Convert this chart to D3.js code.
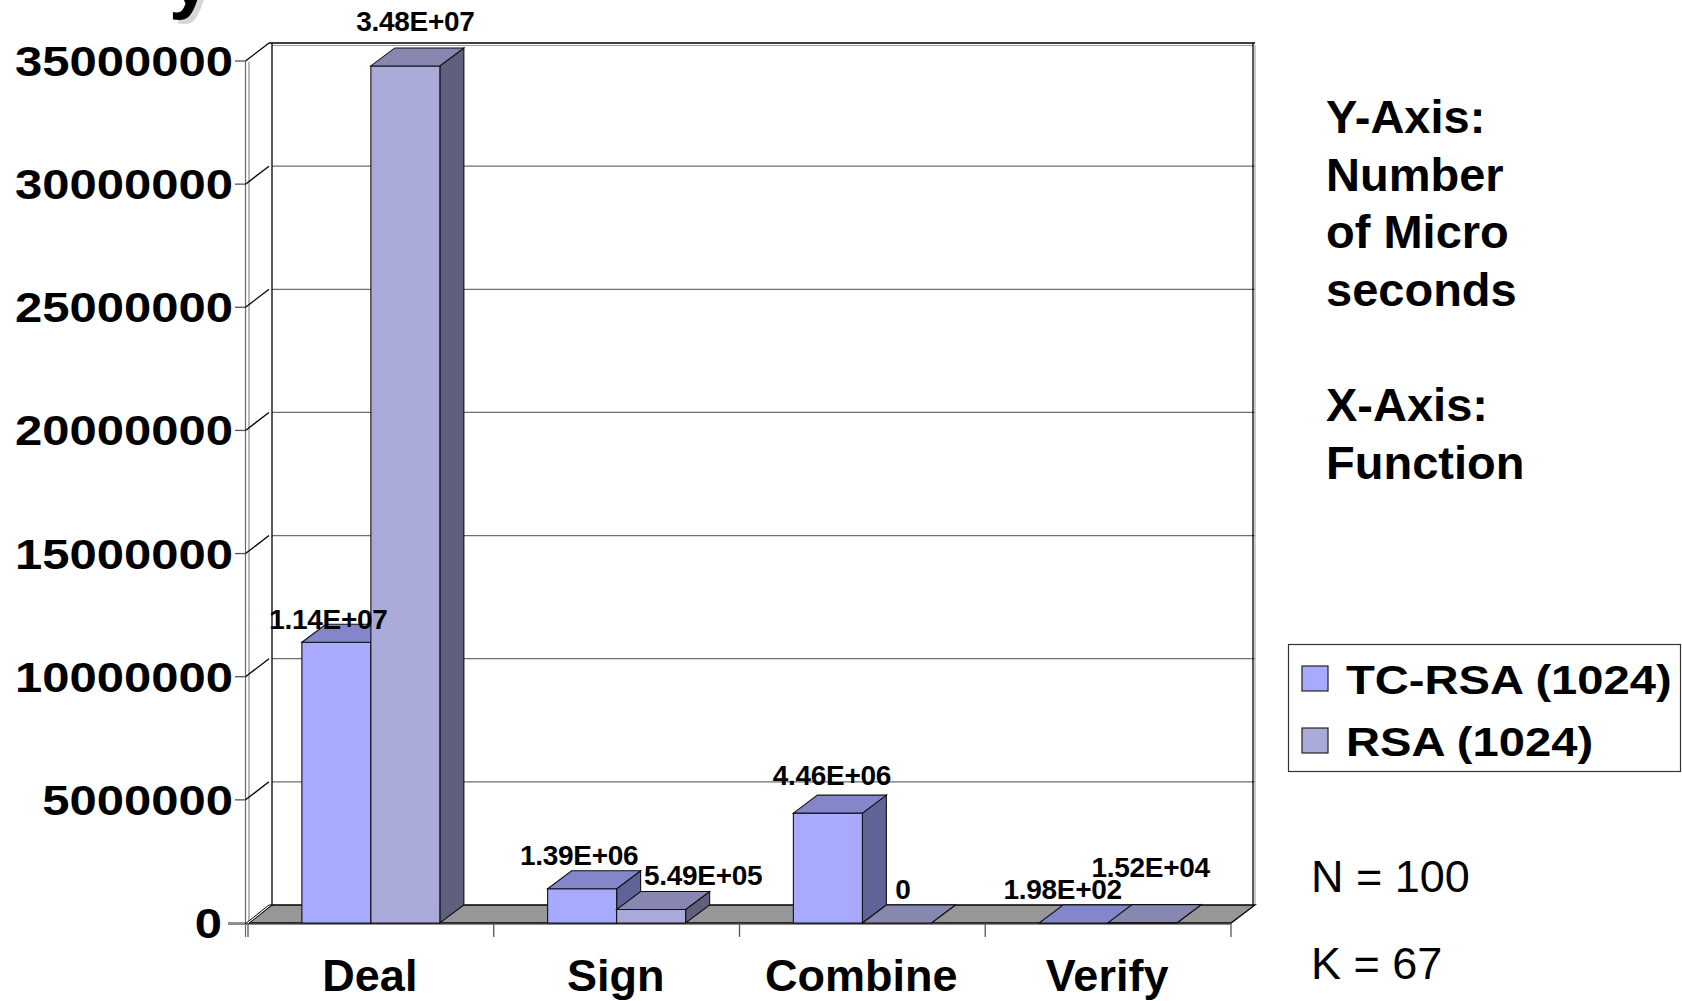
<!DOCTYPE html>
<html>
<head>
<meta charset="utf-8">
<script src="https://cdn.jsdelivr.net/npm/d3@7"></script>
<style>
  html, body { margin: 0; padding: 0; background: #fff; }
  svg { display: block; }
  text { font-family: "Liberation Sans", Arial, Helvetica, sans-serif; fill: #000; }
</style>
</head>
<body>
<svg id="chart" width="1682" height="1001"></svg>
<script>
// ---- data ----
const categories = ["Deal", "Sign", "Combine", "Verify"];
const seriesNames = ["TC-RSA (1024)", "RSA (1024)"];
const tcRsaTimes = [1.14e7, 1.39e6, 4.46e6, 1.98e2];
const rsaTimes = [3.48e7, 5.49e5, 0, 1.52e4];
const yTickValues = [0, 5000000, 10000000, 15000000, 20000000, 25000000, 30000000, 35000000];
const notes = ["Y-Axis:", "Number", "of Micro", "seconds", "", "X-Axis:", "Function"];
const params = ["N = 100", "K = 67"];

// ---- layout ----
const floorLeft = 248, floorRight = 1231, floorFrontY = 923;
const DX = 24, DY = -18;               // 3-D depth offset
const palette = [
  { front: "#A8AAFF", top: "#8486CC", side: "#606398" },
  { front: "#A9AAD8", top: "#8787B0", side: "#5F5F7E" }
];
// hand-placed nudges for value labels so neighbours do not collide
const labelNudge = [
  [[-20, 11], [-15, 0], [-8, -4], [-23, 0]],
  [[-2, -11], [40, 0], [-6, 0], [-4, -22]]
];

const svg = d3.select("#chart");

const x = d3.scaleBand().domain(categories).range([floorLeft, floorRight])
  .paddingInner(0.4385).paddingOuter(0.4385 / 2);
const xs = d3.scaleBand().domain([0, 1]).range([0, x.bandwidth()]);
const y = d3.scaleLinear().domain([0, 35000000]).range([floorFrontY, 61]);

const series = [tcRsaTimes, rsaTimes];

function fmtExp(v) {
  if (v === 0) return "0";
  const [m, e] = v.toExponential(2).split("e");
  const sign = e[0] === "-" ? "-" : "+";
  const digits = e.replace(/[+-]/, "").padStart(2, "0");
  return m + "E" + sign + digits;
}

// ---- slide title running off the top edge ----
const titleG = svg.append("g");
titleG.append("text").attr("x", 174).attr("y", 8).attr("font-size", 76)
  .attr("font-weight", "bold").style("fill", "#d6d6d6").text("y");
titleG.append("text").attr("x", 169).attr("y", 4).attr("font-size", 76)
  .attr("font-weight", "bold").text("y");

// ---- walls ----
const backL = floorLeft + DX, backR = floorRight + DX;
const yTopBack = y(35000000) + DY;
const walls = svg.append("g");

// back wall gridlines
walls.selectAll("line.grid").data(yTickValues.filter(v => v > 0 && v < 35000000))
  .join("line").attr("class", "grid")
  .attr("x1", backL).attr("x2", backR)
  .attr("y1", d => y(d) + DY).attr("y2", d => y(d) + DY)
  .attr("stroke", "#6e6e6e").attr("stroke-width", 1.3);

// top edge (double line)
walls.append("line").attr("x1", backL - 3).attr("x2", backR)
  .attr("y1", yTopBack).attr("y2", yTopBack).attr("stroke", "#000").attr("stroke-width", 1.5);
walls.append("line").attr("x1", backL).attr("x2", backR - 2)
  .attr("y1", yTopBack + 2.5).attr("y2", yTopBack + 2.5).attr("stroke", "#9a9a9a").attr("stroke-width", 1);

// back wall left and right edges
walls.append("line").attr("x1", backL).attr("x2", backL)
  .attr("y1", yTopBack).attr("y2", floorFrontY + DY).attr("stroke", "#000").attr("stroke-width", 1.3);
walls.append("line").attr("x1", backR - 2).attr("x2", backR - 2)
  .attr("y1", yTopBack).attr("y2", floorFrontY + DY).attr("stroke", "#000").attr("stroke-width", 1.3);
walls.append("line").attr("x1", backR).attr("x2", backR)
  .attr("y1", yTopBack + 2).attr("y2", floorFrontY + DY).attr("stroke", "#9a9a9a").attr("stroke-width", 1);

// left wall (thin slab) front edges
walls.append("line").attr("x1", floorLeft - 2.5).attr("x2", floorLeft - 2.5)
  .attr("y1", y(35000000)).attr("y2", floorFrontY + 14).attr("stroke", "#6a6a6a").attr("stroke-width", 1.2);
walls.append("line").attr("x1", floorLeft + 1).attr("x2", floorLeft + 1)
  .attr("y1", y(35000000) + 1).attr("y2", floorFrontY).attr("stroke", "#8a8a8a").attr("stroke-width", 1.2);
walls.append("line").attr("x1", floorLeft - 2.5).attr("y1", y(35000000))
  .attr("x2", backL - 3).attr("y2", yTopBack).attr("stroke", "#000").attr("stroke-width", 1.3);

// y ticks: short stub + depth diagonal
const yt = walls.selectAll("g.ytick").data(yTickValues).join("g").attr("class", "ytick");
yt.append("line").attr("x1", d => d === 0 ? 228 : 235).attr("x2", floorLeft - 2.5)
  .attr("y1", d => y(d)).attr("y2", d => y(d)).attr("stroke", "#555").attr("stroke-width", 1.3);
yt.filter(d => d > 0 && d < 35000000).append("line")
  .attr("x1", floorLeft - 2.5).attr("y1", d => y(d))
  .attr("x2", backL - 3).attr("y2", d => y(d) + DY).attr("stroke", "#000").attr("stroke-width", 1.3);
yt.append("text")
  .attr("transform", d => `translate(${d === 0 ? 222 : 233},${y(d) + 15}) scale(1.14,1)`)
  .attr("text-anchor", "end").attr("font-size", 43).attr("font-weight", "bold")
  .text(d => String(d));

// ---- floor ----
const floorPts = [[floorLeft, floorFrontY], [floorRight, floorFrontY],
  [floorRight + DX, floorFrontY + DY], [floorLeft + DX, floorFrontY + DY]];
svg.append("polygon").attr("points", floorPts.map(p => p.join(",")).join(" "))
  .attr("fill", "#979797").attr("stroke", "#000").attr("stroke-width", 1.3);
// white bottom edge of the left wall
svg.append("polygon")
  .attr("points", [[floorLeft - 3, floorFrontY + 1], [floorLeft, floorFrontY + 1],
    [backL, floorFrontY + DY], [backL - 3, floorFrontY + DY]].map(p => p.join(",")).join(" "))
  .attr("fill", "#fff").attr("stroke", "#000").attr("stroke-width", 1);
svg.append("line").attr("x1", 228).attr("x2", floorRight).attr("y1", floorFrontY + 1.5).attr("y2", floorFrontY + 1.5)
  .attr("stroke", "#8a8a8a").attr("stroke-width", 1);

// category separator ticks below the floor
const step = x.step();
const sepXs = d3.range(categories.length + 1).map(i => floorLeft + i * step);
svg.selectAll("line.xtick").data(sepXs).join("line").attr("class", "xtick")
  .attr("x1", d => d).attr("x2", d => d).attr("y1", floorFrontY).attr("y2", floorFrontY + 14)
  .attr("stroke", "#555").attr("stroke-width", 1.3);

// ---- bars ----
const bars = [];
categories.forEach((c, ci) => {
  series.forEach((s, si) => {
    const x0 = x(c) + xs(si), x1 = x0 + xs.bandwidth();
    bars.push({ c, ci, si, v: s[ci], x0, x1, yt: y(s[ci]) });
  });
});

const barG = svg.append("g").selectAll("g").data(bars).join("g");
const poly = pts => pts.map(p => p.join(",")).join(" ");
barG.append("polygon")  // side face
  .attr("points", d => poly([[d.x1, d.yt], [d.x1 + DX, d.yt + DY], [d.x1 + DX, floorFrontY + DY], [d.x1, floorFrontY]]))
  .attr("fill", d => palette[d.si].side).attr("stroke", "#111").attr("stroke-width", 1.1);
barG.append("polygon")  // front face
  .attr("points", d => poly([[d.x0, d.yt], [d.x1, d.yt], [d.x1, floorFrontY], [d.x0, floorFrontY]]))
  .attr("fill", d => palette[d.si].front).attr("stroke", "#111").attr("stroke-width", 1.1)
  .attr("stroke-opacity", d => d.v === 0 ? 0 : 1);
barG.append("polygon")  // top face
  .attr("points", d => poly([[d.x0, d.yt], [d.x1, d.yt], [d.x1 + DX, d.yt + DY], [d.x0 + DX, d.yt + DY]]))
  .attr("fill", d => palette[d.si].top).attr("stroke", "#111").attr("stroke-width", 1.1);

// value labels
svg.append("g").selectAll("text").data(bars).join("text")
  .attr("x", d => (d.x0 + d.x1) / 2 + DX / 2 + labelNudge[d.si][d.ci][0])
  .attr("y", d => d.yt - 24 + labelNudge[d.si][d.ci][1])
  .attr("text-anchor", "middle").attr("font-size", 28).attr("font-weight", "bold")
  .attr("letter-spacing", -0.3)
  .text(d => fmtExp(d.v));

// category labels
svg.append("g").selectAll("text").data(categories).join("text")
  .attr("x", d => x(d) + x.bandwidth() / 2 - 1)
  .attr("y", 991)
  .attr("text-anchor", "middle").attr("font-size", 45).attr("font-weight", "bold")
  .text(d => d);

// ---- side notes ----
svg.append("g").selectAll("text").data(notes).join("text")
  .attr("x", 1326).attr("y", (d, i) => 133 + i * 57.6)
  .attr("font-size", 47).attr("font-weight", "bold").text(d => d);

// ---- legend ----
const lg = svg.append("g");
lg.append("rect").attr("x", 1288.5).attr("y", 644.5).attr("width", 392).attr("height", 127)
  .attr("fill", "#fff").attr("stroke", "#333").attr("stroke-width", 1.2);
const li = lg.selectAll("g.item").data(seriesNames).join("g").attr("class", "item")
  .attr("transform", (d, i) => `translate(1302,${666 + i * 62})`);
li.append("rect").attr("width", 26).attr("height", 25)
  .attr("fill", (d, i) => palette[i].front).attr("stroke", "#222").attr("stroke-width", 1.2);
li.append("text").attr("transform", "translate(44,28) scale(1.15,1)")
  .attr("font-size", 41).attr("font-weight", "bold").text(d => d);

// ---- parameters ----
svg.append("g").selectAll("text").data(params).join("text")
  .attr("x", 1311).attr("y", (d, i) => 892 + i * 87)
  .attr("font-size", 45).text(d => d);
</script>
</body>
</html>
